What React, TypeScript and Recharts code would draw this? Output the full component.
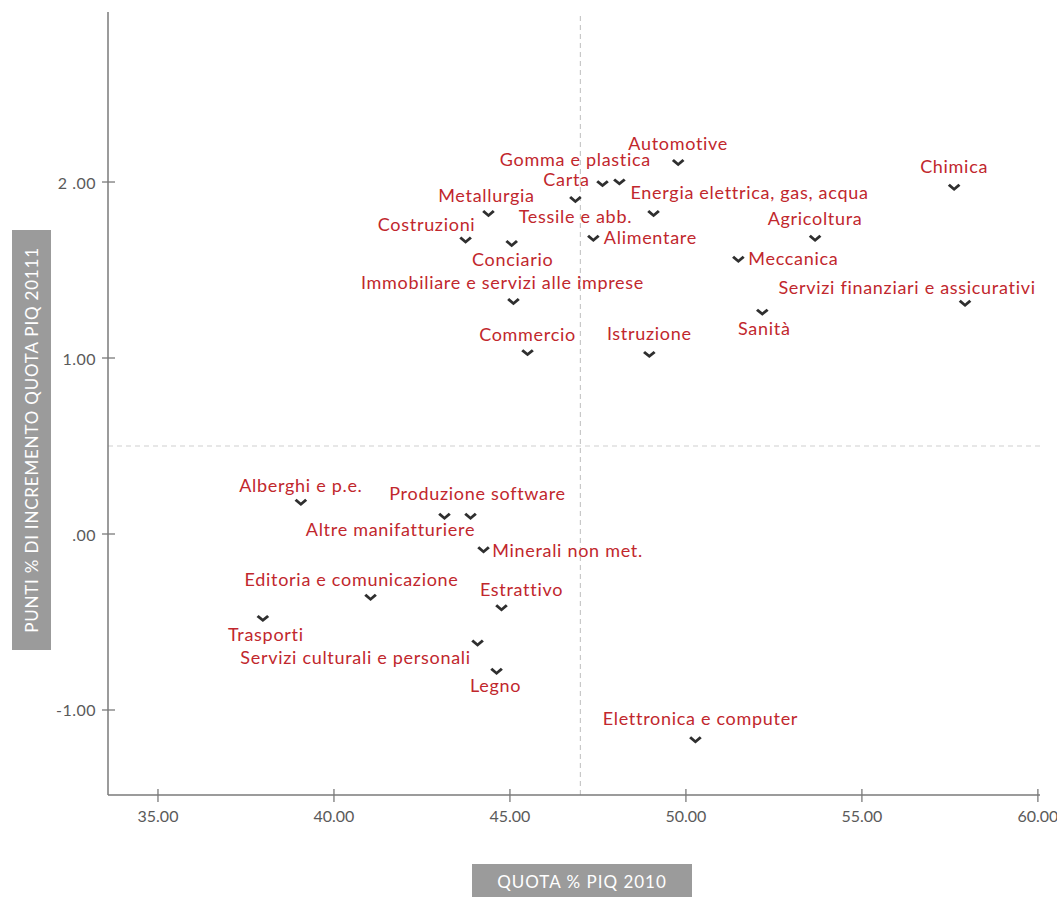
import React from 'react';
import { ScatterChart, Scatter, XAxis, YAxis, ReferenceLine } from 'recharts';

const sectors = [
  'Automotive', 'Chimica', 'Gomma e plastica', 'Carta', 'Energia elettrica, gas, acqua',
  'Metallurgia', 'Tessile e abb.', 'Costruzioni', 'Conciario', 'Alimentare',
  'Agricoltura', 'Meccanica', 'Servizi finanziari e assicurativi', 'Sanità',
  'Immobiliare e servizi alle imprese', 'Commercio', 'Istruzione', 'Alberghi e p.e.',
  'Produzione software', 'Altre manifatturiere', 'Minerali non met.',
  'Editoria e comunicazione', 'Estrattivo', 'Trasporti', 'Servizi culturali e personali',
  'Legno', 'Elettronica e computer',
];

const quota2010 = [
  49.78, 57.62, 48.11, 47.63, 49.08,
  44.39, 46.86, 43.74, 45.05, 47.37,
  53.67, 51.49, 57.93, 52.17,
  45.10, 45.50, 48.96, 39.06,
  43.88, 43.14, 44.25,
  41.04, 44.76, 37.98, 44.08,
  44.62, 50.27,
];

const incremento = [
  2.11, 1.97, 2.00, 1.99, 1.82,
  1.82, 1.90, 1.67, 1.65, 1.68,
  1.68, 1.56, 1.31, 1.26,
  1.32, 1.03, 1.02, 0.18,
  0.10, 0.10, -0.09,
  -0.36, -0.42, -0.48, -0.62,
  -0.78, -1.17,
];

// label placement relative to the marker (layout only)
const labelDx = [
  0, 0, -44, -36, 96,
  -2, 0, -39, 1, 57,
  0, 55, -58, 2,
  -11, 0, 0, 0,
  7, -54, 84,
  -19, 20, 3, -122,
  -1, 5,
];
const labelDy = [
  -20, -21, -23, -5, -22,
  -19, 16, -16, 15, -1,
  -20, -1, -16, 16,
  -20, -19, -21, -17,
  -23, 13, 0,
  -18, -19, 16, 14,
  14, -22,
];

const xTicks = [35, 40, 45, 50, 55, 60];
const xTickLabels = ['35.00', '40.00', '45.00', '50.00', '55.00', '60.00'];
const yTicks = [-1, 0, 1, 2];
const yTickLabels = ['-1.00', '.00', '1.00', '2 .00'];

const data = sectors.map((name, i) => ({
  name,
  x: quota2010[i],
  y: incremento[i],
  dx: labelDx[i],
  dy: labelDy[i],
}));

const FONT = 'Lato, "Open Sans", sans-serif';
const AXIS = '#7a7a7a';
const RED = '#c1272d';

const XTick = (props: any) => {
  const { x, y, payload } = props;
  const axisY = y - 12;
  const idx = xTicks.indexOf(payload.value);
  return (
    <g>
      <line x1={x} x2={x} y1={axisY - 6} y2={axisY + 7} stroke={AXIS} strokeWidth={1.3} />
      <text x={x} y={axisY + 20} textAnchor="middle" dominantBaseline="central" fill="#5a5a5a" fontSize={16} fontFamily={FONT}>
        {idx >= 0 ? xTickLabels[idx] : payload.value}
      </text>
    </g>
  );
};

const YTick = (props: any) => {
  const { x, y, payload } = props;
  const axisX = x + 11;
  const idx = yTicks.indexOf(payload.value);
  return (
    <g>
      <line x1={axisX - 6} x2={axisX + 7} y1={y} y2={y} stroke={AXIS} strokeWidth={1.3} />
      <text x={axisX - 12} y={y} textAnchor="end" dominantBaseline="central" fill="#5a5a5a" fontSize={16} letterSpacing={0.5} fontFamily={FONT}>
        {idx >= 0 ? yTickLabels[idx] : payload.value}
      </text>
    </g>
  );
};

const Marker = (props: any) => {
  const { cx, cy, payload } = props;
  if (cx == null || cy == null) return null;
  const pts = [
    [-6.3, -1.6], [-4.3, -3.6], [0, 0.1], [4.3, -3.6], [6.3, -1.6], [0, 3.6],
  ].map(([a, b]) => `${cx + a},${cy + b}`).join(' ');
  return (
    <g>
      <polygon points={pts} fill="#2f2f2f" />
      <text
        x={cx + payload.dx}
        y={cy + payload.dy}
        textAnchor="middle"
        dominantBaseline="central"
        fill={RED}
        fontSize={18}
        letterSpacing={0.7}
        fontFamily={FONT}
      >
        {payload.name}
      </text>
    </g>
  );
};

export default function App() {
  return (
    <div style={{ position: 'absolute', left: 0, top: 0, width: 1057, height: 897, background: '#fff', fontFamily: FONT, overflow: 'hidden' }}>
      <ScatterChart width={1057} height={897} margin={{ top: 12, right: 17, bottom: 72, left: 48 }}>
        <XAxis
          type="number"
          dataKey="x"
          domain={[33.58, 60.06]}
          ticks={xTicks}
          allowDataOverflow
          height={30}
          tickSize={6}
          tickMargin={6}
          tickLine={false}
          tick={<XTick />}
          axisLine={{ stroke: AXIS, strokeWidth: 1.5 }}
          interval={0}
        />
        <YAxis
          type="number"
          dataKey="y"
          domain={[-1.483, 2.966]}
          ticks={yTicks}
          allowDataOverflow
          width={60}
          tickSize={6}
          tickMargin={5}
          tickLine={false}
          tick={<YTick />}
          axisLine={{ stroke: AXIS, strokeWidth: 1.5 }}
          interval={0}
        />
        <ReferenceLine x={47} stroke="#bdbdbd" strokeDasharray="5 4" strokeWidth={1} />
        <ReferenceLine y={0.5} stroke="#cfcfcf" strokeDasharray="5 4" strokeWidth={1} />
        <Scatter data={data} isAnimationActive={false} shape={<Marker />} />
      </ScatterChart>
      <div style={{ position: 'absolute', left: 12, top: 230, width: 39, height: 420, background: '#9b9b9b' }}>
        <div style={{
          position: 'absolute', left: '50%', top: '50%', width: 420, textAlign: 'center',
          transform: 'translate(-50%, -50%) rotate(-90deg)', color: '#fff', fontSize: 17, letterSpacing: 0.8, whiteSpace: 'nowrap', lineHeight: '20px',
        }}>
          PUNTI % DI INCREMENTO QUOTA PIQ 20111
        </div>
      </div>
      <div style={{
        position: 'absolute', left: 472, top: 864, width: 220, height: 40, background: '#9b9b9b',
        color: '#fff', fontSize: 17, letterSpacing: 1, textAlign: 'center', lineHeight: '36px', whiteSpace: 'nowrap',
      }}>
        QUOTA % PIQ 2010
      </div>
    </div>
  );
}
